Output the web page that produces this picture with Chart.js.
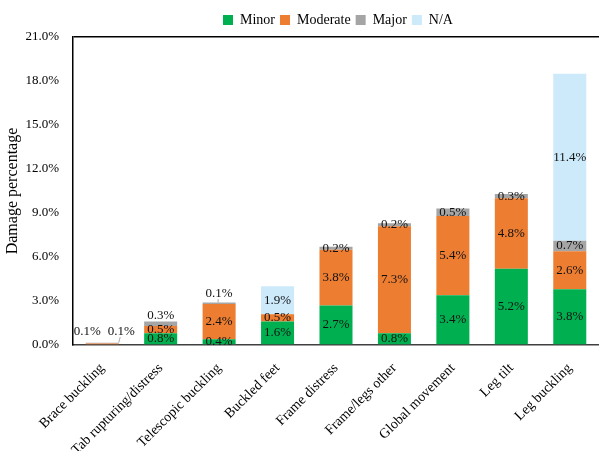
<!DOCTYPE html>
<html>
<head>
<meta charset="utf-8">
<script src="https://cdn.jsdelivr.net/npm/chart.js@4"></script>
<style>
  html, body { margin: 0; padding: 0; background: #fff; }
  #wrap { width: 599px; height: 451px; }
</style>
</head>
<body>
<div id="wrap"><canvas id="damageChart"></canvas></div>
<script>
// damage categories and percentages per severity
const categories = ['Brace buckling', 'Tab rupturing/distress', 'Telescopic buckling', 'Buckled feet',
  'Frame distress', 'Frame/legs other', 'Global movement', 'Leg tilt', 'Leg buckling'];
const minorValues    = [0,    0.8, 0.4, 1.6, 2.7, 0.8, 3.4, 5.2, 3.8];
const moderateValues = [0.1,  0.5, 2.4, 0.5, 3.8, 7.3, 5.4, 4.8, 2.6];
const majorValues    = [0.06, 0.3, 0.1, 0,   0.2, 0.2, 0.5, 0.3, 0.7];
const naValues       = [0,    0,   0,   1.9, 0,   0,   0,   0,   11.4];
const yMax = 21;
const yStep = 3;

// labels that sit outside tiny segments (dataset-index keys)
const labelNudges = {
  '1-0': { dx: -15, dy: -12 },
  '2-0': { dx: 19, dy: -12, leader: true },
  '2-1': { dx: 0, dy: -8 },
  '2-2': { dx: 0, dy: -10, leader: true }
};

Chart.defaults.font.family = '"Liberation Serif", "Times New Roman", serif';
Chart.defaults.color = '#000';

const barLabels = {
  id: 'barLabels',
  afterDatasetsDraw(chart) {
    const ctx = chart.ctx;
    ctx.save();
    ctx.font = '13px "Liberation Serif"';
    ctx.textAlign = 'center';
    ctx.textBaseline = 'middle';
    chart.data.datasets.forEach((ds, di) => {
      chart.getDatasetMeta(di).data.forEach((bar, i) => {
        const v = ds.data[i];
        if (!v) return;
        const nudge = labelNudges[di + '-' + i] || { dx: 0, dy: 0 };
        const x = bar.x + nudge.dx;
        const y = (bar.y + bar.base) / 2 + nudge.dy;
        if (nudge.leader) {
          const half = bar.width / 2;
          const tx = Math.min(Math.max(x - 1, bar.x - half), bar.x + half);
          ctx.strokeStyle = '#a6a6a6';
          ctx.lineWidth = 1;
          ctx.beginPath();
          ctx.moveTo(x - 1, y + 6);
          ctx.lineTo(tx, bar.y);
          ctx.stroke();
        }
        ctx.fillStyle = '#111';
        ctx.fillText(v.toFixed(1) + '%', x, y);
      });
    });
    ctx.restore();
  }
};

// legend in the reference is centred over the plot, not the canvas
const legendShift = {
  id: 'legendShift',
  afterLayout(chart) {
    chart.legend.left = chart.chartArea.left + 4;
    chart.legend.right = chart.chartArea.right;
  }
};

new Chart(document.getElementById('damageChart').getContext('2d'), {
  type: 'bar',
  data: {
    labels: categories,
    datasets: [
      { label: 'Minor', data: minorValues, backgroundColor: '#00b050' },
      { label: 'Moderate', data: moderateValues, backgroundColor: '#ed7d31' },
      { label: 'Major', data: majorValues, backgroundColor: '#a5a5a5' },
      { label: 'N/A', data: naValues, backgroundColor: '#cdeafb' }
    ]
  },
  options: {
    responsive: true,
    maintainAspectRatio: false,
    animation: false,
    barPercentage: 0.565,
    categoryPercentage: 1,
    layout: { padding: { left: 0, right: 0, top: 8, bottom: 0 } },
    plugins: {
      legend: {
        position: 'top',
        labels: { boxWidth: 10, boxHeight: 10, font: { size: 14 }, padding: 5 }
      },
      tooltip: { enabled: false }
    },
    scales: {
      x: {
        stacked: true,
        grid: { display: false },
        border: { color: '#404040', width: 1.5 },
        ticks: { maxRotation: 45, minRotation: 45, font: { size: 14 }, padding: 7 },
        afterFit: s => { s.height = 106; }
      },
      y: {
        stacked: true,
        min: 0,
        max: yMax,
        border: { color: '#000', width: 1.5 },
        grid: {
          drawTicks: false,
          color: c => (c.tick && c.tick.value === yMax ? '#000' : 'rgba(0,0,0,0)'),
          lineWidth: 1.5
        },
        ticks: {
          stepSize: yStep,
          padding: 14,
          font: { size: 13 },
          callback: v => v.toFixed(1) + '%'
        },
        title: { display: true, text: 'Damage percentage', font: { size: 16 }, padding: { top: 3, bottom: 0 } },
        afterFit: s => { s.width = 73; }
      }
    }
  },
  plugins: [barLabels, legendShift]
});
</script>
</body>
</html>
